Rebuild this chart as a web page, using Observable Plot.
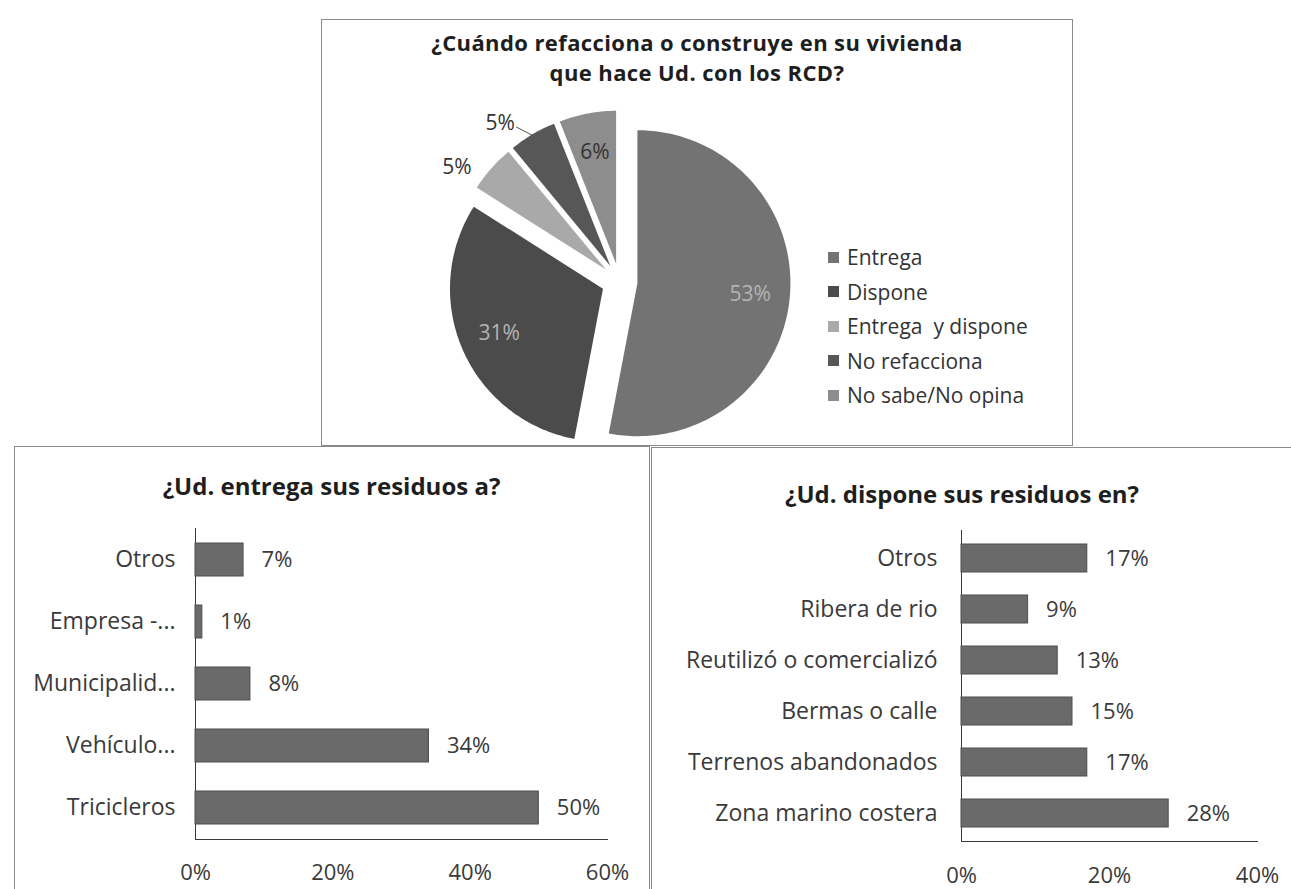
<!DOCTYPE html>
<html>
<head>
<meta charset="utf-8">
<script src="https://cdn.jsdelivr.net/npm/d3@7"></script>
<script src="https://cdn.jsdelivr.net/npm/@observablehq/plot@0.6"></script>
<style>
  html, body { margin: 0; padding: 0; background: #fff; }
  body { width: 1291px; height: 889px; overflow: hidden; position: relative; font-family: "Open Sans", sans-serif; color: #333; }
  .panel { position: absolute; box-sizing: border-box; border: 1.5px solid #8a8a8a; background: #fff; }
  .title { position: absolute; text-align: center; font-weight: 700; font-size: 24px; color: #1e1e1e; line-height: 27px; white-space: nowrap; }
  .pietitle { font-size: 22px; line-height: 30px; letter-spacing: 0.4px; }
  .plotwrap { position: absolute; }
  .legend { position: absolute; }
  .legend .row { height: 34.5px; display: flex; align-items: center; font-size: 21px; color: #333; white-space: pre; }
  .legend .sw { width: 11px; height: 11px; margin-right: 8px; flex: none; }
</style>
</head>
<body>
<div id="pie" class="panel" style="left:321px; top:19px; width:752px; height:427px;"></div>
<div id="left" class="panel" style="left:14px; top:446px; width:636px; height:480px;"></div>
<div id="right" class="panel" style="left:651px; top:447px; width:700px; height:480px;"></div>
<script>
// ---------- DATA ----------
const pieCategories = ["Entrega", "Dispone", "Entrega  y dispone", "No refacciona", "No sabe/No opina"];
const pieValues = [53, 31, 5, 5, 6];
const pieColors = ["#737373", "#4b4b4b", "#a9a9a9", "#575757", "#8d8d8d"];

const entregaCategories = ["Otros", "Empresa -...", "Municipalid...", "Vehículo...", "Tricicleros"];
const entregaValues = [7, 1, 8, 34, 50];
const entregaTicks = [0, 20, 40, 60];

const disponeCategories = ["Otros", "Ribera de rio", "Reutilizó o comercializó", "Bermas o calle", "Terrenos abandonados", "Zona marino costera"];
const disponeValues = [17, 9, 13, 15, 17, 28];
const disponeTicks = [0, 20, 40];

const pieTitle = ["¿Cuándo refacciona o construye en su vivienda", "que hace Ud. con los RCD?"];
const entregaTitle = "¿Ud. entrega sus residuos a?";
const disponeTitle = "¿Ud. dispone sus residuos en?";

const FONT = "'Open Sans', sans-serif";
const barFill = "#6a6a6a";

// ---------- PIE ----------
(function () {
  const panel = document.getElementById("pie");
  const W = 750, H = 425;
  const t = document.createElement("div");
  t.className = "title pietitle";
  t.style.left = "0px"; t.style.width = W + "px"; t.style.top = "7px";
  t.innerHTML = pieTitle.join("<br>");
  panel.appendChild(t);

  const cx = 297, cy = 261, r = 153, explode = 18;
  const arcs = d3.pie().sort(null).value(d => d.value)(
    pieCategories.map((name, i) => ({name, value: pieValues[i]}))
  );
  const pts = [];
  const labels = [];
  const leaders = [];
  arcs.forEach(a => {
    const mid = (a.startAngle + a.endAngle) / 2;
    const vx = cx + explode * Math.sin(mid), vy = cy - explode * Math.cos(mid);
    pts.push({name: a.data.name, x: vx, y: vy});
    const n = Math.max(4, Math.ceil((a.endAngle - a.startAngle) / 0.02));
    for (let k = 0; k <= n; k++) {
      const ang = a.startAngle + (a.endAngle - a.startAngle) * k / n;
      pts.push({name: a.data.name, x: vx + r * Math.sin(ang), y: vy - r * Math.cos(ang)});
    }
    pts.push({name: a.data.name, x: vx, y: vy});
    const pct = a.data.value;
    const outside = pct === 5;
    const la = outside ? mid - 7 * Math.PI / 180 : mid;
    const f = outside ? 1.18 : 0.74;
    const lx = vx + f * r * Math.sin(la), ly = vy - f * r * Math.cos(la);
    labels.push({text: pct + "%", x: lx, y: ly, light: pct > 20});
    if (a.data.name === "No refacciona") {
      leaders.push({x1: lx + 16, y1: ly + 4, x2: vx + r * Math.sin(mid), y2: vy - r * Math.cos(mid) + 1});
    }
  });

  const svg = Plot.plot({
    width: W, height: H, margin: 0,
    x: {domain: [0, W], range: [0, W], axis: null},
    y: {domain: [0, H], range: [0, H], axis: null},
    color: {domain: pieCategories, range: pieColors},
    style: {fontFamily: FONT, background: "transparent", overflow: "visible"},
    marks: [
      Plot.line(pts, {x: "x", y: "y", z: "name", fill: "name", stroke: "none"}),
      Plot.link(leaders, {x1: "x1", y1: "y1", x2: "x2", y2: "y2", stroke: "#555", strokeWidth: 1}),
      Plot.text(labels.filter(d => d.light), {x: "x", y: "y", text: "text", fill: "#b4b4b4", fontSize: 21}),
      Plot.text(labels.filter(d => !d.light), {x: "x", y: "y", text: "text", fill: "#333", fontSize: 21})
    ]
  });
  const wrap = document.createElement("div");
  wrap.className = "plotwrap";
  wrap.style.left = "0px"; wrap.style.top = "0px";
  wrap.appendChild(svg);
  panel.appendChild(wrap);

  const lg = document.createElement("div");
  lg.className = "legend";
  lg.style.left = "506px"; lg.style.top = "220px";
  pieCategories.forEach((c, i) => {
    const row = document.createElement("div");
    row.className = "row";
    const sw = document.createElement("span");
    sw.className = "sw"; sw.style.background = pieColors[i];
    const tx = document.createElement("span");
    tx.textContent = c;
    row.appendChild(sw); row.appendChild(tx);
    lg.appendChild(row);
  });
  panel.appendChild(lg);
})();

// ---------- BAR CHARTS ----------
function barChart(panelId, title, titleCenterY, titleWidth, cats, vals, ticks, opts) {
  const panel = document.getElementById(panelId);
  const t = document.createElement("div");
  t.className = "title";
  t.style.left = "0px"; t.style.width = titleWidth + "px";
  t.style.top = (titleCenterY - 13.5) + "px";
  t.textContent = title;
  panel.appendChild(t);

  const data = cats.map((c, i) => ({cat: c, value: vals[i]}));
  const svg = Plot.plot({
    width: opts.width, height: opts.height,
    marginLeft: opts.ml, marginRight: opts.mr, marginTop: opts.mt, marginBottom: opts.mb,
    x: {domain: [ticks[0], ticks[ticks.length - 1]], ticks: ticks, tickFormat: d => d + "%",
        tickSize: 0, tickPadding: opts.xpad, line: true, label: null},
    y: {domain: cats, paddingInner: opts.pad, paddingOuter: opts.pad / 2,
        tickSize: 0, tickPadding: opts.ypad, line: true, label: null},
    style: {fontFamily: FONT, fontSize: "22px", color: "#3a3a3a", background: "transparent", overflow: "visible"},
    marks: [
      Plot.barX(data, {x: "value", y: "cat", fill: barFill, stroke: "#4f4f4f", strokeWidth: 1}),
      Plot.text(data, {x: "value", y: "cat", text: d => d.value + "%", dx: 18, textAnchor: "start", fill: "#3a3a3a", fontSize: 22})
    ]
  });
  svg.querySelectorAll('[aria-label="y-axis tick label"] text, [aria-label="y-axis"] text').forEach(el => el.setAttribute("font-size", "23"));
  const wrap = document.createElement("div");
  wrap.className = "plotwrap";
  wrap.style.left = "0px"; wrap.style.top = opts.top + "px";
  wrap.appendChild(svg);
  panel.appendChild(wrap);
}

barChart("left", entregaTitle, 38, 633, entregaCategories, entregaValues, entregaTicks,
  {width: 633, height: 392, ml: 180, mr: 41, mt: 21, mb: 60, top: 60, pad: 0.47, xpad: 25, ypad: 20});

barChart("right", disponeTitle, 45, 620, disponeCategories, disponeValues, disponeTicks,
  {width: 640, height: 393, ml: 309, mr: 35, mt: 22, mb: 60, top: 60, pad: 0.46, xpad: 26, ypad: 24});
</script>
</body>
</html>
